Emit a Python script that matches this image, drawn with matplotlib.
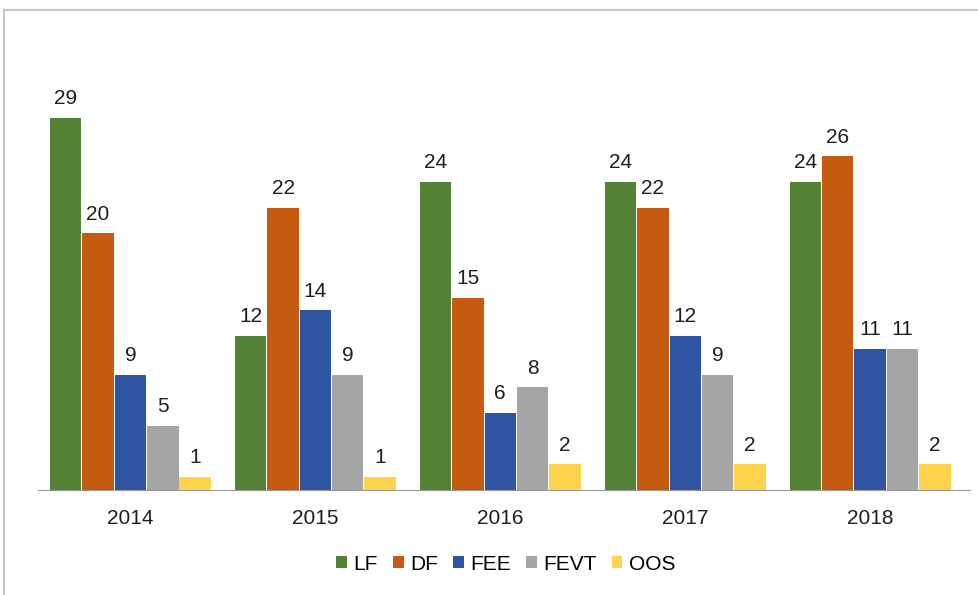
import matplotlib
matplotlib.use("Agg")
import matplotlib.pyplot as plt
from matplotlib.lines import Line2D
import numpy as np

years = ["2014", "2015", "2016", "2017", "2018"]
series_names = ["LF", "DF", "FEE", "FEVT", "OOS"]
lf = [29, 12, 24, 24, 24]
df = [20, 22, 15, 22, 26]
fee = [9, 14, 6, 12, 11]
fevt = [5, 9, 8, 9, 11]
oos = [1, 1, 2, 2, 2]
colors = ["#538135", "#C55A11", "#2F55A3", "#A5A5A5", "#FFD34E"]

plt.rcParams["font.family"] = ["Liberation Sans", "DejaVu Sans"]

fig = plt.figure(figsize=(9.79, 5.95), dpi=100)
ax = fig.add_axes([0.0388, 0.1765, 0.952, 0.7116])

x = np.arange(len(years))
w = 0.175
for i, (name, vals) in enumerate(zip(series_names, [lf, df, fee, fevt, oos])):
    pos = x + (i - 2) * w
    bars = ax.bar(pos, vals, width=w * 0.97, color=colors[i], label=name)
    for b, v in zip(bars, vals):
        ax.annotate(str(v), (b.get_x() + b.get_width() / 2, v),
                    xytext=(0, 7), textcoords="offset points",
                    ha="center", va="bottom", fontsize=15, color="#1e1e1e")

ax.set_xlim(-0.5, 4.54)
ax.set_ylim(0, 33)
ax.set_xticks(x)
ax.set_xticklabels(years, fontsize=15, color="#1e1e1e")
ax.set_yticks([])
ax.tick_params(axis="x", length=0, pad=14)
for s in ["top", "right", "left"]:
    ax.spines[s].set_visible(False)
ax.spines["bottom"].set_color("#9a9a9a")

ax.legend(loc="center", bbox_to_anchor=(0.502, -0.175), ncol=5, frameon=False,
          fontsize=15, handlelength=0.5, handleheight=0.5, handletextpad=0.3,
          columnspacing=0.75)

# frame lines of the original screenshot
fig.add_artist(Line2D([4 / 979, 1], [1 - 10 / 595, 1 - 10 / 595],
                      transform=fig.transFigure, color="#c8c8c8", lw=1.5))
fig.add_artist(Line2D([4 / 979, 4 / 979], [0, 1 - 10 / 595],
                      transform=fig.transFigure, color="#c8c8c8", lw=1.5))

fig.savefig("out.png", dpi=100)
